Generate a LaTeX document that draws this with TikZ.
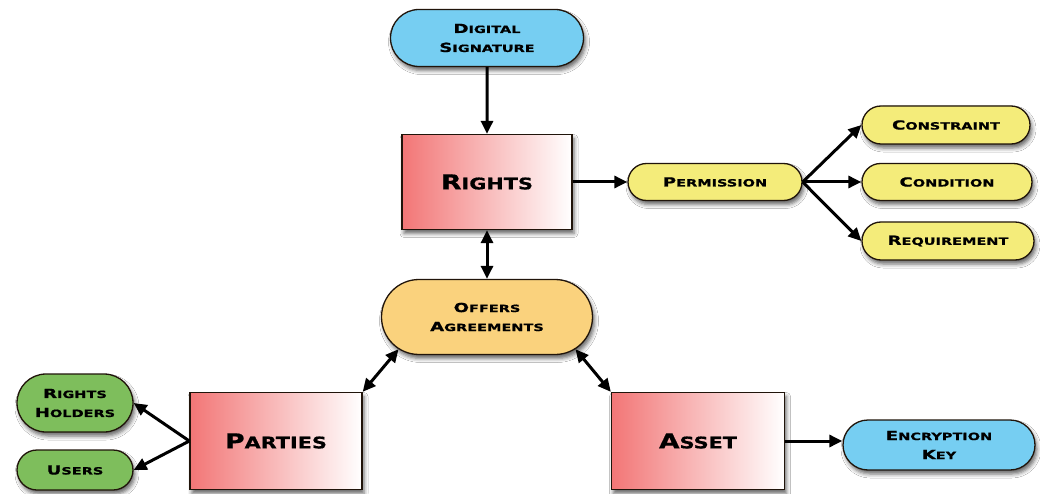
\documentclass[tikz,border=0pt]{standalone}
\usepackage{fontspec}
\newfontfamily\cgs[FakeStretch=1.45,FakeBold=0.8]{DejaVu Sans}
\newfontfamily\cgl[FakeStretch=1.3,FakeBold=0.8]{DejaVu Sans}
\usetikzlibrary{shapes.misc,arrows.meta,shadows.blur}
\definecolor{pillblue}{RGB}{118,206,242}
\definecolor{pillyellow}{RGB}{244,236,122}
\definecolor{pillorange}{RGB}{250,210,125}
\definecolor{pillgreen}{RGB}{126,190,92}
\definecolor{boxred}{RGB}{242,118,118}
\definecolor{edge}{RGB}{32,20,10}
\newcommand\CS[2]{#1{\scz #2}}
\begin{document}
\begin{tikzpicture}[x=1pt,y=-1pt,
  shad/.style={blur shadow={shadow xshift=2pt,shadow yshift=-4pt,shadow blur radius=4pt,shadow opacity=60}},
  pill/.style={rounded rectangle, draw=edge, line width=1.3pt, inner sep=0pt, align=center, shad,
    font={\cgs\bfseries\fontsize{12.5}{19}\selectfont\def\scz{\fontsize{10}{19}\selectfont}}},
  box/.style={rectangle, draw=edge, line width=1.3pt, inner sep=0pt, left color=boxred, right color=white, shad,
    font={\cgl\bfseries\fontsize{20.5}{22}\selectfont\def\scz{\fontsize{16}{22}\selectfont}}},
  tip/.tip={Triangle[length=13pt,width=12pt]},
  arr/.style={line width=3pt, -tip},
  darr/.style={line width=3pt, tip-tip}]
\useasboundingbox[fill=white] (0,0) rectangle (1040,494);
% nodes
\node[pill, fill=pillblue, minimum width=193pt, minimum height=57pt] (sig) at (487,38) {\CS{D}{IGITAL}\\\CS{S}{IGNATURE}};
\node[box, minimum width=170pt, minimum height=95pt] (rig) at (487,182) {\CS{R}{IGHTS}};
\node[pill, fill=pillyellow, minimum width=174pt, minimum height=37pt] (per) at (715,182) {\CS{P}{ERMISSION}};
\node[pill, fill=pillyellow, minimum width=168pt, minimum height=38pt] (con) at (946,125) {\CS{C}{ONSTRAINT}};
\node[pill, fill=pillyellow, minimum width=170pt, minimum height=37pt] (cnd) at (947,182) {\CS{C}{ONDITION}};
\node[pill, fill=pillyellow, minimum width=172pt, minimum height=38pt] (req) at (948,241) {\CS{R}{EQUIREMENT}};
\node[pill, fill=pillorange, minimum width=211pt, minimum height=75pt] (off) at (487,317) {\CS{O}{FFERS}\\\CS{A}{GREEMENTS}};
\node[box, minimum width=172pt, minimum height=97pt] (par) at (276,441) {\CS{P}{ARTIES}};
\node[box, minimum width=173pt, minimum height=97pt] (ast) at (698,441) {\CS{A}{SSET}};
\node[pill, fill=pillgreen, minimum width=116pt, minimum height=58pt] (rh) at (75,403) {\CS{R}{IGHTS}\\\CS{H}{OLDERS}};
\node[pill, fill=pillgreen, minimum width=116pt, minimum height=40pt] (usr) at (75,470) {\CS{U}{SERS}};
\node[pill, fill=pillblue, minimum width=192pt, minimum height=50pt] (enc) at (939,445) {\CS{E}{NCRYPTION}\\\CS{K}{EY}};
% connectors
\draw[arr] (sig) -- (rig);
\draw[darr] (rig) -- (off);
\draw[arr] (rig) -- (per);
\draw[arr] (per.east) -- (con.west);
\draw[arr] (per.east) -- (cnd.west);
\draw[arr] (per.east) -- (req.west);
\draw[darr] (off.200) -- (par.north east);
\draw[darr] (off.340) -- (ast.north west);
\draw[arr] (par.west) -- (rh.east);
\draw[arr] (par.west) -- (usr.east);
\draw[arr] (ast.east) -- (ast.east -| enc.west);
\end{tikzpicture}
\end{document}
